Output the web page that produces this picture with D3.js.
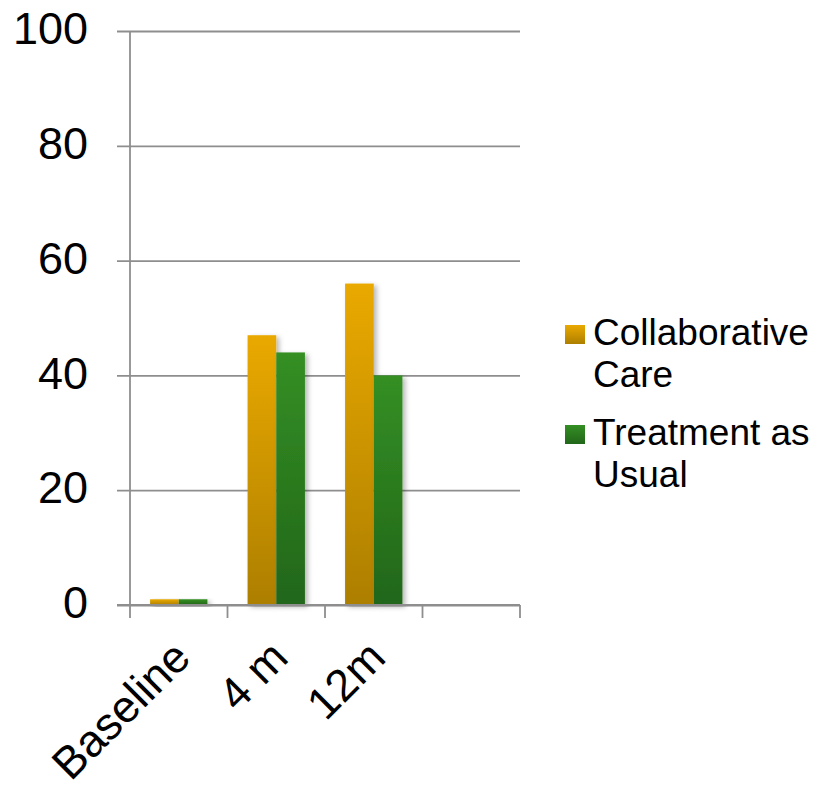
<!DOCTYPE html>
<html>
<head>
<meta charset="utf-8">
<script src="https://cdn.jsdelivr.net/npm/d3@7"></script>
<style>
  html, body { margin: 0; padding: 0; background: #fff; }
  svg { display: block; font-family: "Liberation Sans", Arial, sans-serif; }
</style>
</head>
<body>
<svg id="chart" width="815" height="793"></svg>
<script>
// Periods on the x axis (the fourth slot is left empty)
const categories = ["Baseline", "4 m", "12m", ""];
const seriesNames = ["Collaborative Care", "Treatment as Usual"];
const collaborativeCare = [1, 47, 56, null];
const treatmentAsUsual = [1, 44, 40, null];
const yTicks = [0, 20, 40, 60, 80, 100];

const svg = d3.select("#chart");
const margin = { left: 130, right: 295, top: 31, bottom: 188 };
const W = 815, H = 793;

const x = d3.scaleBand().domain(categories).range([margin.left, W - margin.right]);
const inner = d3.scaleBand().domain(seriesNames)
  .range([0, x.bandwidth()]).paddingOuter(0.7).paddingInner(0);
const y = d3.scaleLinear().domain([0, 100]).range([H - margin.bottom, margin.top]);

const defs = svg.append("defs");
const grads = [
  { id: "gOrange", top: "#eaa900", bottom: "#ad7f00" },
  { id: "gGreen", top: "#348f23", bottom: "#22661a" }
];
grads.forEach(g => {
  const lg = defs.append("linearGradient").attr("id", g.id)
    .attr("x1", 0).attr("y1", 0).attr("x2", 0).attr("y2", 1);
  lg.append("stop").attr("offset", "0%").attr("stop-color", g.top);
  lg.append("stop").attr("offset", "100%").attr("stop-color", g.bottom);
});
const shadow = defs.append("filter").attr("id", "shadow")
  .attr("x", "-20%").attr("y", "-10%").attr("width", "150%").attr("height", "130%");
shadow.append("feDropShadow").attr("dx", 3).attr("dy", 2)
  .attr("stdDeviation", 2.5).attr("flood-color", "#000").attr("flood-opacity", 0.28);

// Horizontal gridlines and the y axis
const yAxis = d3.axisLeft(y).tickValues(yTicks).tickSize(-(W - margin.right - margin.left)).tickPadding(42);
const gy = svg.append("g").attr("transform", `translate(${margin.left},0)`).call(yAxis);
gy.select(".domain").remove();
gy.selectAll(".tick line").attr("stroke", "#8e8e8e").attr("stroke-width", 1.8)
  .attr("x1", -13);
gy.selectAll(".tick text").attr("fill", "#000").attr("font-size", 45).attr("dy", "0.28em")
  .attr("font-family", "Liberation Sans, Arial, sans-serif");
svg.append("line").attr("x1", margin.left).attr("x2", margin.left)
  .attr("y1", y(100)).attr("y2", y(0) + 13)
  .attr("stroke", "#8e8e8e").attr("stroke-width", 1.8);

// x axis with category tick marks at slot boundaries
const bounds = categories.map(c => x(c)).concat([x(categories[categories.length - 1]) + x.bandwidth()]);
svg.selectAll(".xtick").data(bounds.slice(1)).join("line")
  .attr("x1", d => d).attr("x2", d => d)
  .attr("y1", y(0)).attr("y2", y(0) + 13)
  .attr("stroke", "#8e8e8e").attr("stroke-width", 1.8);

// Bars
const rows = categories.map((c, i) => ({ c, vals: [collaborativeCare[i], treatmentAsUsual[i]] }));
const fills = ["url(#gOrange)", "url(#gGreen)"];
const groups = svg.append("g").selectAll("g").data(rows).join("g")
  .attr("transform", d => `translate(${x(d.c)},0)`);
groups.selectAll("rect")
  .data(d => d.vals.map((v, j) => ({ v, j })).filter(e => e.v != null))
  .join("rect")
  .attr("x", e => inner(seriesNames[e.j]))
  .attr("width", inner.bandwidth())
  .attr("y", e => y(e.v))
  .attr("height", e => y(0) - y(e.v))
  .attr("fill", e => fills[e.j])
  .attr("filter", "url(#shadow)");

// Redraw baseline over the bars' bottom edge
svg.append("line").attr("x1", margin.left - 13).attr("x2", W - margin.right)
  .attr("y1", y(0)).attr("y2", y(0))
  .attr("stroke", "#8e8e8e").attr("stroke-width", 1.8);

// Rotated category labels
svg.selectAll(".xlab").data(categories.filter(c => c)).join("text")
  .attr("font-size", 45).attr("fill", "#000").attr("text-anchor", "end")
  .attr("transform", c => `translate(${x(c) + x.bandwidth() / 2 + 14},${y(0) + 55}) rotate(-45)`)
  .text(c => c);

// Legend
const legendLines = [["Collaborative", "Care"], ["Treatment as", "Usual"]];
const legend = svg.append("g");
legendLines.forEach((lines, i) => {
  const top = 345 + i * 100;
  legend.append("rect").attr("x", 565).attr("y", top - 20).attr("width", 20).attr("height", 19)
    .attr("fill", fills[i]);
  const t = legend.append("text").attr("x", 593).attr("y", top)
    .attr("font-size", 37).attr("fill", "#000");
  lines.forEach((ln, k) => t.append("tspan").attr("x", 593).attr("dy", k ? 42 : 0).text(ln));
});
</script>
</body>
</html>
